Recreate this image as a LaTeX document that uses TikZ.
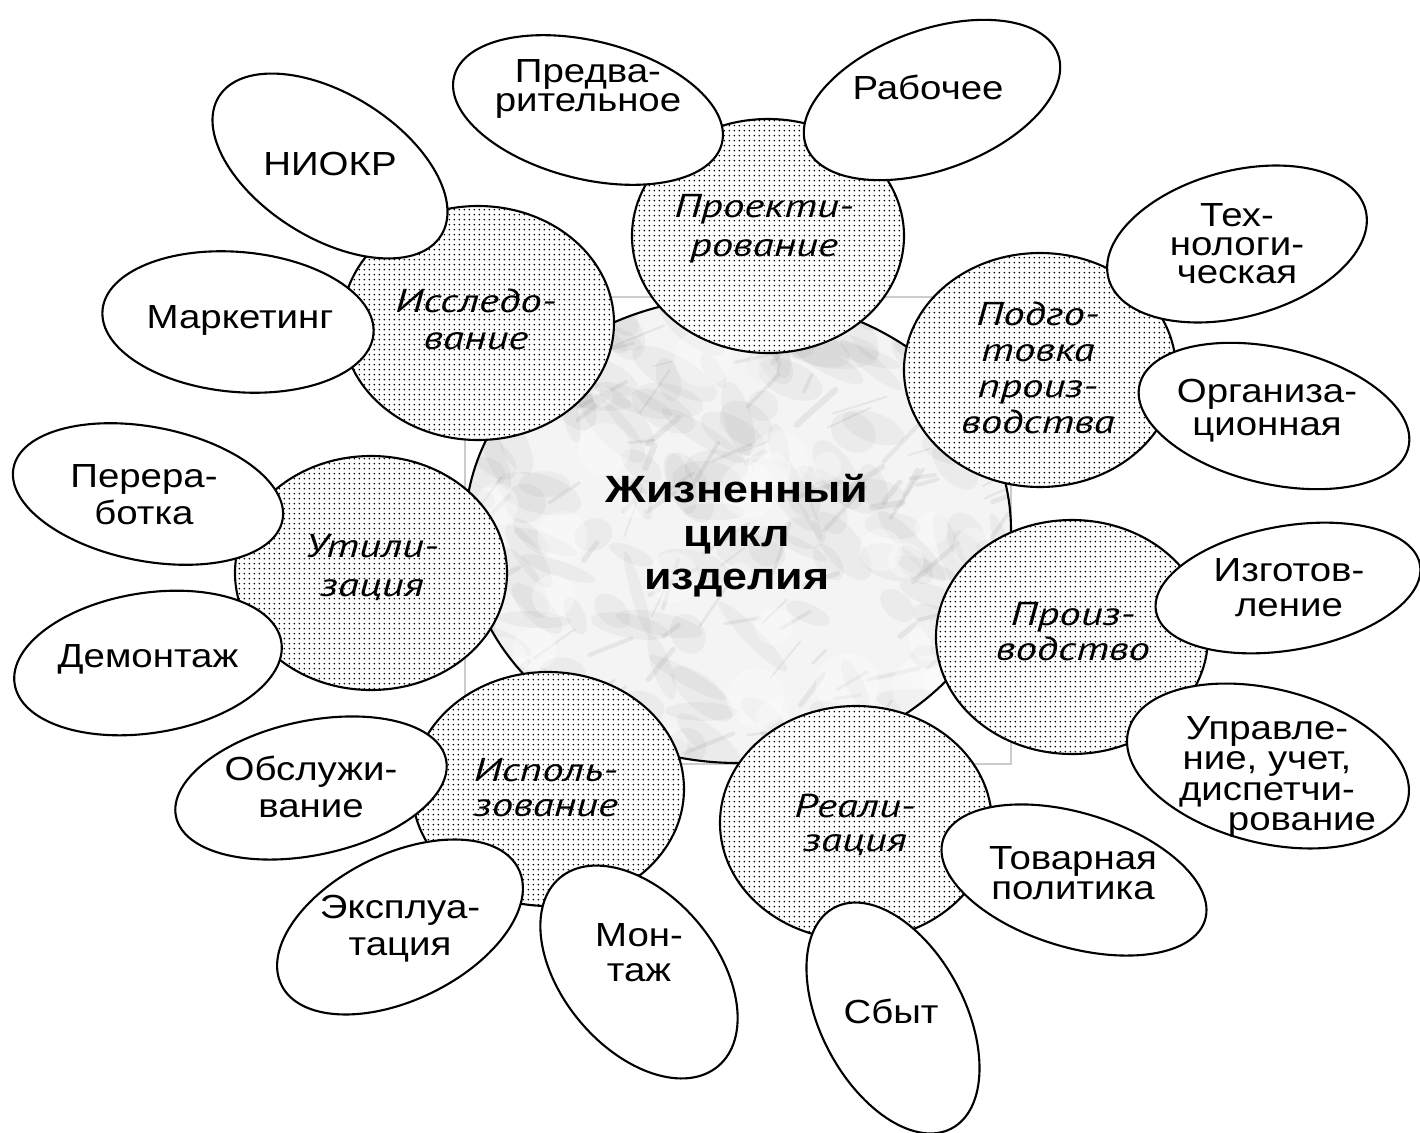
\documentclass[tikz,border=0pt]{standalone}
\usepackage{fontspec}
\newfontfamily\leaffont{Liberation Sans}[FakeStretch=1.15]
\newfontfamily\stagefont{PT Sans}[FakeStretch=1.3]
\newfontfamily\hubfont{Liberation Sans}[FakeStretch=1.18]
\usetikzlibrary{patterns.meta}

% fine dot screen used inside the stage discs
\tikzdeclarepattern{
  name=finedots,
  type=uncolored,
  bounding box={(0pt,0pt) and (1.5pt,1.5pt)},
  tile size={(1.5pt,1.5pt)},
  code={\pgfpathcircle{\pgfqpoint{0.75pt}{0.75pt}}{0.28pt}\pgfusepath{fill}}
}

\tikzset{
  stage/.style={draw=black, line width=0.6pt, preaction={fill=white},
    pattern=finedots, pattern color=black},
  leaf/.style={draw=black, line width=0.6pt, fill=white},
  leaftext/.style={align=center, inner sep=0pt,
    font=\leaffont\fontsize{9.5pt}{#1}\selectfont},
  leaftext/.default=10pt,
  stagetext/.style={align=center, inner sep=0pt,
    font=\stagefont\itshape\fontsize{9.4pt}{#1}\selectfont},
  stagetext/.default=10pt,
  hubtext/.style={align=center, inner sep=0pt,
    font=\hubfont\bfseries\fontsize{10.8pt}{12.4pt}\selectfont},
}

% white ellipse: centre x, centre y, half axes a and b, tilt
\newcommand{\drawleaf}[5]{%
  \draw[leaf, rotate around={#5:(#1,#2)}] (#1,#2) ellipse [x radius=#3, y radius=#4];}

\begin{document}
\begin{tikzpicture}[x=0.01cm, y=-0.01cm]
\useasboundingbox (0,0) rectangle (1420,1133);
\fill[white] (0,0) rectangle (1420,1133);

% frame of the centre picture
\draw[gray!40, line width=0.3pt] (465,297) rectangle (1011,764);

% marble disc in the middle
\begin{scope}
  \clip (738,530) ellipse [x radius=273, y radius=233];
  \fill[gray!9] (465,297) rectangle (1011,764);
  \pgfmathsetseed{2024}
  % soft grey clouds
  \foreach \k in {1,...,160}{
    \pgfmathsetmacro{\mx}{465+546*rnd}
    \pgfmathsetmacro{\my}{297+467*rnd}
    \pgfmathsetmacro{\ma}{-40+40*rand}
    \pgfmathsetmacro{\mra}{15+35*rnd}
    \pgfmathsetmacro{\mrb}{6+14*rnd}
    \fill[black, opacity=0.035, rotate around={\ma:(\mx,\my)}]
      (\mx,\my) ellipse [x radius=\mra, y radius=\mrb];
  }
  % thin veins
  \foreach \k in {1,...,110}{
    \pgfmathsetmacro{\mx}{465+546*rnd}
    \pgfmathsetmacro{\my}{297+467*rnd}
    \pgfmathsetmacro{\ma}{-40+35*rand}
    \pgfmathsetmacro{\ml}{15+45*rnd}
    \pgfmathsetmacro{\mw}{0.4+1.4*rnd}
    \draw[black!60, line width=\mw pt, opacity=0.1, line cap=round]
      (\mx,\my) -- ++(\ma:\ml);
  }
  % light patches
  \foreach \k in {1,...,50}{
    \pgfmathsetmacro{\mx}{465+546*rnd}
    \pgfmathsetmacro{\my}{297+467*rnd}
    \pgfmathsetmacro{\mr}{10+22*rnd}
    \fill[white, opacity=0.35] (\mx,\my) circle [radius=\mr];
  }
\end{scope}
\draw[line width=0.6pt] (738,530) ellipse [x radius=273, y radius=233];

% stage discs
\foreach \cx/\cy in {768/236, 478/323, 1040/370, 371/573, 1072/637, 548/789, 856/823}
  \draw[stage] (\cx,\cy) ellipse [x radius=136, y radius=117];

% detail ellipses
\drawleaf{588}{110}{138}{69}{-14}
\drawleaf{932}{100}{134}{70}{20}
\drawleaf{330}{166}{131}{72}{-32}
\drawleaf{238}{322}{136}{70}{-5}
\drawleaf{1237}{244}{133}{73}{15}
\drawleaf{1274}{416}{138}{68}{-13}
\drawleaf{1288}{588}{134}{62}{10}
\drawleaf{1268}{766}{144}{77}{-14}
\drawleaf{1074}{880}{137}{67}{-17}
\drawleaf{893}{1018}{125}{72}{-62}
\drawleaf{639}{972}{123}{77}{-50}
\drawleaf{400}{927}{132}{73}{26}
\drawleaf{311}{788}{138}{67}{12}
\drawleaf{148}{494}{137}{67}{-11}
\drawleaf{148}{663}{135}{70}{9}

% centre label
\node[hubtext] (hub) at (737,536) {Жизненный\\цикл\\изделия};

% stage labels
\node[stagetext=11.1pt] (design) at (764,229) {Проекти-\\рование};
\node[stagetext=10.5pt] (research) at (476,319) {Исследо-\\вание};
\node[stagetext=10.2pt] (prep) at (1038,368) {Подго-\\товка\\произ-\\водства};
\node[stagetext=11.1pt] (disposal) at (372,568) {Утили-\\зация};
\node[stagetext=9.9pt] (production) at (1073,632) {Произ-\\водство};
\node[stagetext=9.9pt] (usage) at (546,788) {Исполь-\\зование};
\node[stagetext=9.7pt] (sales) at (855,825) {Реали-\\зация};

% detail labels
\node[leaftext=8.2pt] (prelim) at (588,89) {Предва-\\рительное};
\node[leaftext] (working) at (928,87) {Рабочее};
\node[leaftext] (rnd) at (330,164) {НИОКР};
\node[leaftext] (marketing) at (240,320) {Маркетинг};
\node[leaftext=8.1pt] (techprep) at (1237,244) {Тех-\\нологи-\\ческая};
\node[leaftext=9.3pt] (orgprep) at (1267,411) {Организа-\\ционная};
\node[leaftext=10pt] (making) at (1289,588) {Изготов-\\ление};
\node[leaftext=8.6pt] (control) at (1267,777)
  {Управле-\\ние, учет,\\диспетчи-\\\hspace*{0.7cm}рование};
\node[leaftext=8.4pt] (policy) at (1073,873) {Товарная\\политика};
\node[leaftext] (selling) at (891,1011) {Сбыт};
\node[leaftext=10pt] (install) at (639,953) {Мон-\\таж};
\node[leaftext=10.5pt] (operation) at (400,929) {Эксплуа-\\тация};
\node[leaftext=10.5pt] (service) at (311,787) {Обслужи-\\вание};
\node[leaftext=10.5pt] (recycling) at (144,495) {Перера-\\ботка};
\node[leaftext] (dismantle) at (148,659) {Демонтаж};
\end{tikzpicture}
\end{document}
